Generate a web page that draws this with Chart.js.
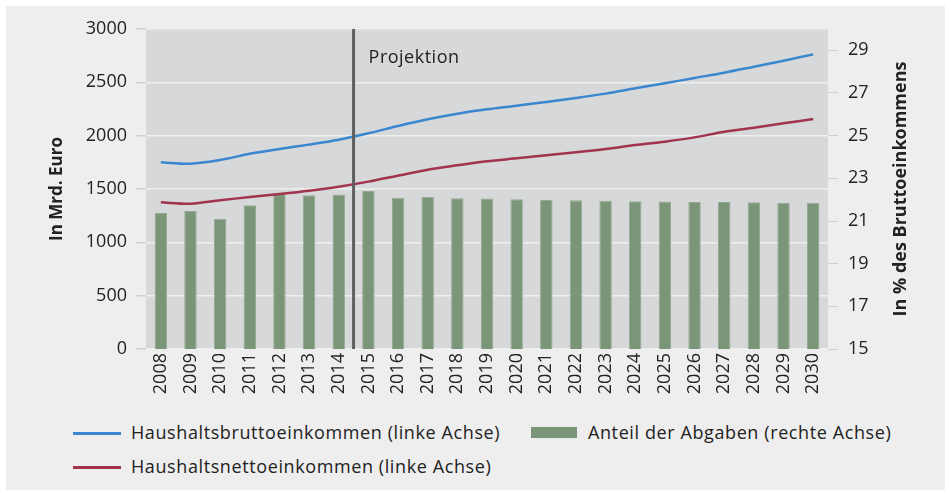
<!DOCTYPE html>
<html>
<head>
<meta charset="utf-8">
<script src="https://cdn.jsdelivr.net/npm/chart.js@4.4.1/dist/chart.umd.min.js"></script>
<style>
  body { margin: 0; background: #fff; font-family: 'Open Sans', sans-serif; }
  #frame { position: absolute; left: 6px; top: 6px; width: 939px; height: 484px; background: #eeeeee; }
  #chart { position: absolute; left: 0; top: 0; }
  .item { position: absolute; font-size: 18px; letter-spacing: 0.6px; color: #222; white-space: nowrap; line-height: 22px; }
  .swatch { position: absolute; }
</style>
</head>
<body>
<div id="frame"></div>
<canvas id="chart" width="951" height="400"></canvas>
<div id="legend"></div>
<script>
const years = ['2008', '2009', '2010', '2011', '2012', '2013', '2014', '2015', '2016', '2017', '2018', '2019',
  '2020', '2021', '2022', '2023', '2024', '2025', '2026', '2027', '2028', '2029', '2030'];
// Mrd. Euro, linke Achse
const brutto = [1750, 1737, 1772, 1831, 1875, 1916, 1962, 2022, 2090, 2153, 2206, 2247,
  2281, 2316, 2353, 2394, 2444, 2491, 2541, 2590, 2647, 2703, 2762];
const netto = [1375, 1362, 1394, 1425, 1453, 1484, 1522, 1569, 1625, 1681, 1722, 1760,
  1788, 1816, 1844, 1875, 1912, 1944, 1984, 2037, 2075, 2116, 2156];
// Prozent, rechte Achse
const abgaben = [21.38, 21.47, 21.11, 21.74, 22.27, 22.21, 22.24, 22.41, 22.09, 22.12, 22.07, 22.05,
  22.02, 21.99, 21.97, 21.95, 21.93, 21.91, 21.89, 21.89, 21.88, 21.86, 21.86];
const rightTicks = [15, 17, 19, 21, 23, 25, 27, 29];
const projectionStart = '2015';

const BLUE = '#3a86cf';
const RED = '#a2344e';
const GREEN = '#7a9577';
const TEXT = '#222';

Chart.defaults.font.family = "'Open Sans', sans-serif";
Chart.defaults.font.size = 18;
Chart.defaults.color = TEXT;

const extras = {
  id: 'extras',
  beforeDraw(chart) {
    const { ctx, chartArea: a } = chart;
    ctx.save();
    ctx.fillStyle = '#d7d8da';
    ctx.fillRect(a.left, a.top, a.right - a.left, a.bottom - a.top);
    ctx.restore();
  },
  afterDatasetsDraw(chart) {
    const { ctx, chartArea: a, scales } = chart;
    const x = scales.x.getPixelForValue(years.indexOf(projectionStart) - 0.5);
    ctx.save();
    ctx.strokeStyle = '#5f5f61';
    ctx.lineWidth = 3;
    ctx.beginPath();
    ctx.moveTo(x, a.top);
    ctx.lineTo(x, a.bottom);
    ctx.stroke();
    ctx.fillStyle = TEXT;
    ctx.font = "18px 'Open Sans', sans-serif";
    ctx.letterSpacing = '0.5px';
    ctx.textBaseline = 'alphabetic';
    ctx.fillText('Projektion', x + 15, a.top + 34);
    ctx.letterSpacing = '0px';
    // Achsentitel, beide von unten nach oben
    ctx.textAlign = 'center';
    ctx.textBaseline = 'middle';
    const mid = (a.top + a.bottom) / 2;
    ctx.font = "bold 17px 'Open Sans', sans-serif";
    ctx.translate(57, mid);
    ctx.rotate(-Math.PI / 2);
    ctx.fillText('In Mrd. Euro', 0, 0);
    ctx.setTransform(1, 0, 0, 1, 0, 0);
    ctx.font = "bold 18px 'Open Sans', sans-serif";
    ctx.translate(901, mid);
    ctx.rotate(-Math.PI / 2);
    ctx.fillText('In % des Bruttoeinkommens', 0, 0);
    ctx.restore();
  }
};

const chart = new Chart(document.getElementById('chart'), {
  type: 'bar',
  data: {
    labels: years,
    datasets: [
      {
        type: 'line',
        label: 'Haushaltsbruttoeinkommen (linke Achse)',
        data: brutto,
        yAxisID: 'y',
        borderColor: BLUE,
        backgroundColor: BLUE,
        borderWidth: 2.5,
        pointRadius: 0,
        tension: 0.3,
        order: 1
      },
      {
        label: 'Anteil der Abgaben (rechte Achse)',
        data: abgaben,
        yAxisID: 'y1',
        backgroundColor: GREEN,
        borderColor: '#94aa91',
        borderWidth: 1,
        barPercentage: 0.42,
        categoryPercentage: 1,
        order: 2
      },
      {
        type: 'line',
        label: 'Haushaltsnettoeinkommen (linke Achse)',
        data: netto,
        yAxisID: 'y',
        borderColor: RED,
        backgroundColor: RED,
        borderWidth: 2.5,
        pointRadius: 0,
        tension: 0.3,
        order: 1
      }
    ]
  },
  options: {
    responsive: false,
    animation: false,
    devicePixelRatio: 1,
    layout: { padding: { top: 29, left: 0, right: 0, bottom: 0 } },
    plugins: {
      legend: { display: false },
      tooltip: { enabled: false }
    },
    scales: {
      x: {
        grid: { display: false, drawTicks: false },
        border: { display: false },
        ticks: { minRotation: 90, maxRotation: 90, padding: 4, autoSkip: false },
        afterFit(axis) { axis.height = 51; }
      },
      y: {
        position: 'left',
        min: 0,
        max: 3000,
        ticks: { stepSize: 500, padding: 9, callback: v => String(v) },
        grid: { color: '#efefef', tickColor: '#cfd0d2', tickLength: 10, lineWidth: 1.5 },
        border: { display: false },
        afterFit(axis) { axis.width = 146; }
      },
      y1: {
        position: 'right',
        min: 15,
        max: 30,
        afterBuildTicks(axis) { axis.ticks = rightTicks.map(v => ({ value: v })); },
        ticks: { padding: 10 },
        grid: { drawOnChartArea: false, tickColor: '#cfd0d2', tickLength: 10 },
        border: { display: false },
        afterFit(axis) { axis.width = 123; }
      }
    }
  },
  plugins: [extras]
});

// Legende als HTML unter dem Diagramm
const legendSlots = [
  { left: 73, top: 433 },
  { left: 531, top: 433 },
  { left: 73, top: 467 }
];
const legend = document.getElementById('legend');
chart.data.datasets.forEach((ds, i) => {
  const slot = legendSlots[i];
  const sw = document.createElement('div');
  sw.className = 'swatch';
  if (ds.type === 'line') {
    Object.assign(sw.style, { left: slot.left + 'px', top: (slot.top - 1.5) + 'px', width: '48px', height: '3px', background: ds.borderColor });
  } else {
    Object.assign(sw.style, { left: slot.left + 'px', top: (slot.top - 6) + 'px', width: '46px', height: '11px', background: ds.backgroundColor });
  }
  legend.appendChild(sw);
  const t = document.createElement('div');
  t.className = 'item';
  t.textContent = ds.label;
  const off = ds.type === 'line' ? 58 : 57;
  Object.assign(t.style, { left: (slot.left + off) + 'px', top: (slot.top - 12) + 'px' });
  legend.appendChild(t);
});
</script>
</body>
</html>
